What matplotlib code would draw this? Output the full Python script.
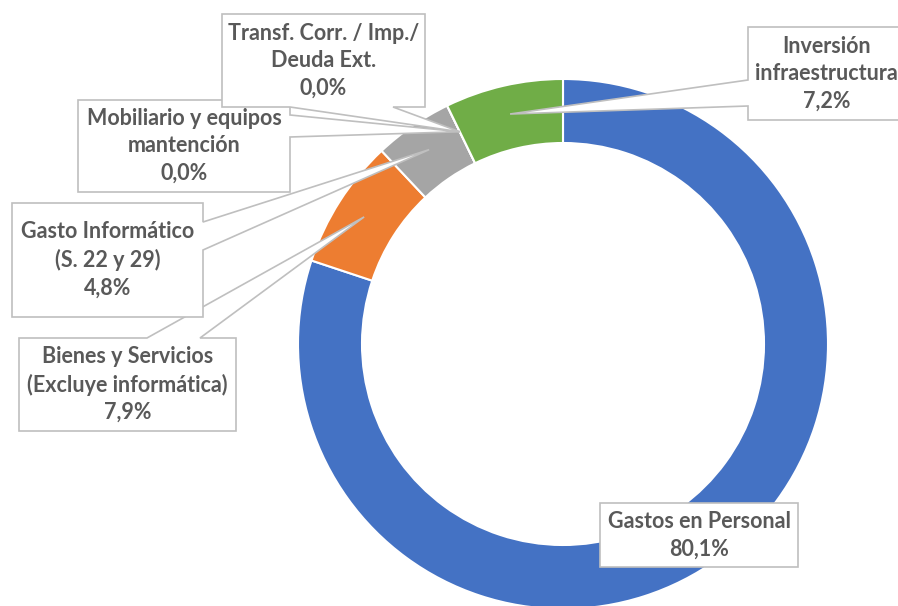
import numpy as np
import matplotlib.pyplot as plt
from matplotlib.patches import Polygon

# datos del gráfico (porcentajes)
categorias = [
    "Gastos en Personal",
    "Bienes y Servicios\n(Excluye informática)",
    "Gasto Informático\n(S. 22 y 29)",
    "Mobiliario y equipos\nmantención",
    "Transf. Corr. / Imp./\nDeuda Ext.",
    "Inversión\ninfraestructura",
]
valores = [80.1, 7.9, 4.8, 0.0, 0.0, 7.2]
colores = ["#4472C4", "#ED7D31", "#A5A5A5", "#FFC000", "#5B9BD5", "#70AD47"]

W, H = 898, 606
plt.rcParams['font.family'] = ['Lato', 'DejaVu Sans']

# posiciones de las cajas (pixeles, y hacia abajo): caja, lado del puntero, base del puntero
cajas = [
    ((600, 503, 798, 567), None, None),
    ((19, 338, 236, 431), 'top', (147, 200)),
    ((12, 203, 203, 317), 'right', (222, 250)),
    ((78, 100, 290, 192), 'right', (115, 137)),
    ((222, 14, 425, 107), 'bottom', (290, 393)),
    ((748, 27, 905, 120), 'left', (80, 106)),
]

fig = plt.figure(figsize=(W / 100, H / 100), dpi=100)
ax = fig.add_axes([0, 0, 1, 1])

cx, cy = 563, H - 344
radio = 265
wedges, _ = ax.pie(valores, colors=colores, startangle=90, counterclock=False,
                   radius=radio, center=(cx, cy), frame=True,
                   wedgeprops=dict(width=64, edgecolor='white', linewidth=1.5))
ax.set_xlim(0, W)
ax.set_ylim(0, H)
ax.set_aspect('equal')
ax.axis('off')

r_punta = 236
for i, (nombre, v) in enumerate(zip(categorias, valores)):
    w = wedges[i]
    ang = np.deg2rad((w.theta1 + w.theta2) / 2)
    tx, ty = cx + r_punta * np.cos(ang), cy + r_punta * np.sin(ang)
    tip = (tx, H - ty)  # a coordenadas de pixel
    (x0, y0, x1, y1), lado, base = cajas[i]
    pts = [(x0, y0)]
    if lado == 'top':
        pts += [(base[0], y0), tip, (base[1], y0)]
    pts += [(x1, y0)]
    if lado == 'right':
        pts += [(x1, base[0]), tip, (x1, base[1])]
    pts += [(x1, y1)]
    if lado == 'bottom':
        pts += [(base[1], y1), tip, (base[0], y1)]
    pts += [(x0, y1)]
    if lado == 'left':
        pts += [(x0, base[1]), tip, (x0, base[0])]
    pts = [(px, H - py) for px, py in pts]
    ax.add_patch(Polygon(pts, closed=True, facecolor='white', edgecolor='#BFBFBF',
                         linewidth=1.2, zorder=5 + i))
    texto = nombre + "\n" + f"{v:.1f}".replace('.', ',') + "%"
    ax.text((x0 + x1) / 2, H - (y0 + y1) / 2, texto, ha='center', va='center',
            fontsize=15.5, fontweight='bold', color='#595959', linespacing=1.38,
            zorder=20)

fig.savefig('out.png', dpi=100)
